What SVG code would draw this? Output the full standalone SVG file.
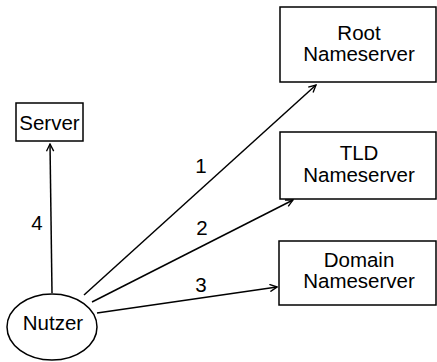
<svg xmlns="http://www.w3.org/2000/svg" width="437" height="362" viewBox="0 0 437 362">
<style>
.box{fill:#fff;stroke:#000;stroke-width:1.5}
.t{font-family:"Liberation Sans",Arial,Helvetica,sans-serif;font-size:20.5px;fill:#000;text-anchor:middle}
.c{fill:none;stroke:#000;stroke-width:1.5}
</style>
<defs>
<marker id="open" viewBox="0 0 10 10" refX="9" refY="5" markerWidth="9" markerHeight="9" markerUnits="userSpaceOnUse" orient="auto">
<path d="M1,1 L9,5 L1,9" fill="none" stroke="#000" stroke-width="1.5"/>
</marker>
</defs>
<rect width="437" height="362" fill="#fff"/>
<g id="connectors">
<line class="c" x1="84" y1="295" x2="316" y2="85" marker-end="url(#open)"/>
<line class="c" x1="92" y1="302" x2="293" y2="200" marker-end="url(#open)"/>
<line class="c" x1="97" y1="313" x2="277" y2="287" marker-end="url(#open)"/>
<line class="c" x1="52" y1="293" x2="50" y2="144" marker-end="url(#open)"/>
<text class="t" x="201" y="173">1</text>
<text class="t" x="202" y="235">2</text>
<text class="t" x="201" y="292">3</text>
<text class="t" x="37" y="230">4</text>
</g>
<g id="root">
<rect class="box" x="280" y="7" width="156" height="75"/>
<text class="t" x="359" y="40">Root</text>
<text class="t" x="359" y="61">Nameserver</text>
</g>
<g id="tld">
<rect class="box" x="280" y="132" width="156" height="67"/>
<text class="t" x="359" y="160">TLD</text>
<text class="t" x="359" y="182">Nameserver</text>
</g>
<g id="domain">
<rect class="box" x="279" y="241" width="157" height="64"/>
<text class="t" x="359" y="267">Domain</text>
<text class="t" x="359" y="288">Nameserver</text>
</g>
<g id="server">
<rect class="box" x="16" y="103" width="67" height="38"/>
<text class="t" x="49.5" y="130">Server</text>
</g>
<g id="nutzer">
<ellipse class="box" cx="52" cy="327" rx="45" ry="33"/>
<text class="t" x="53" y="330">Nutzer</text>
</g>
</svg>
